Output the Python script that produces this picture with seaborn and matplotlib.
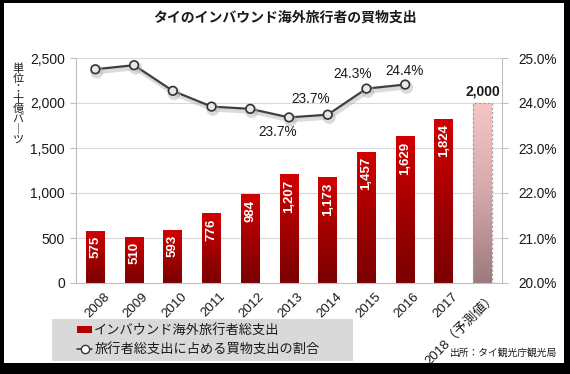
import numpy as np
import pandas as pd
import matplotlib
matplotlib.use("Agg")
import matplotlib.pyplot as plt
import matplotlib.patheffects as pe
from matplotlib.patches import Rectangle, Patch
from matplotlib.lines import Line2D
from matplotlib.ticker import FuncFormatter, MultipleLocator
from matplotlib.colors import LinearSegmentedColormap
import matplotlib.transforms as mtransforms
import seaborn as sns

# ---------------- data ----------------
years = ['2008', '2009', '2010', '2011', '2012', '2013', '2014', '2015', '2016', '2017', '2018（予測値）']
spend = [575, 510, 593, 776, 984, 1207, 1173, 1457, 1629, 1824, 2000]
share_years = ['2008', '2009', '2010', '2011', '2012', '2013', '2014', '2015', '2016']
share = [24.75, 24.84, 24.27, 23.92, 23.87, 23.68, 23.74, 24.32, 24.41]
labelled_share = ['2013', '2014', '2015', '2016']

title = 'タイのインバウンド海外旅行者の買物支出'
ylabel = '単位：十億バーツ'
legend_bar = 'インバウンド海外旅行者総支出'
legend_line = '旅行者総支出に占める買物支出の割合'
source = '出所：タイ観光庁観光局'

# ---------------- style ----------------
sns.set_theme(style="white")
plt.rcParams['font.family'] = ['Liberation Sans', 'Noto Sans CJK JP', 'DejaVu Sans']
TXT = '#1a1a1a'
GRID = '#d9d9d9'
AXC = '#bfbfbf'

W, H = 570, 374
fig = plt.figure(figsize=(W / 100, H / 100), dpi=100)
fig.patch.set_facecolor('white')
L, R, T, B = 76, 502, 58, 283
ax = fig.add_axes([L / W, 1 - B / H, (R - L) / W, (B - T) / H])

df = pd.DataFrame({'year': years, 'spend': spend})
pal = ['#c00000'] * (len(years) - 1) + ['#f0c0c0']
sns.barplot(data=df, x='year', y='spend', hue='year', palette=pal, legend=False,
            width=0.49, ax=ax, saturation=1)

ax.set_xlim(-0.5, len(years) - 0.5)
ax.set_ylim(0, 2500)
ax.yaxis.set_major_locator(MultipleLocator(500))
ax.yaxis.set_major_formatter(FuncFormatter(lambda v, p: f'{int(v):,}'))
ax.grid(axis='y', color=GRID, lw=0.8)
ax.grid(axis='x', visible=False)
ax.set_axisbelow(True)
ax.set_xlabel('')
ax.set_ylabel('')

# gradient fills
red_cmap = LinearSegmentedColormap.from_list('r', ['#7a0000', '#a30000', '#d20000'])
pink_cmap = LinearSegmentedColormap.from_list('p', ['#9c7a7c', '#d4a8aa', '#f6c6c6'])
grad = np.linspace(0, 1, 256).reshape(-1, 1)
for i, patch in enumerate(ax.patches):
    x0, y0 = patch.get_x(), patch.get_y()
    w, h = patch.get_width(), patch.get_height()
    cmap = pink_cmap if i == len(ax.patches) - 1 else red_cmap
    im = ax.imshow(grad, cmap=cmap, extent=(x0, x0 + w, y0, y0 + h), origin='lower',
                   aspect='auto', zorder=1, interpolation='bilinear')
    im.set_clip_path(patch)
    patch.set_facecolor('none')
    patch.set_zorder(1.5)
    if i == len(ax.patches) - 1:
        patch.set_edgecolor('#b79a9c')
        patch.set_linestyle((0, (2, 1.5)))
        patch.set_linewidth(0.9)
    else:
        patch.set_edgecolor('none')
ax.set_xlim(-0.5, len(years) - 0.5)
ax.set_ylim(0, 2500)

# bar labels
for i, patch in enumerate(ax.patches):
    v = spend[i]
    xc = patch.get_x() + patch.get_width() / 2
    if i == len(ax.patches) - 1:
        ax.annotate(f'{v:,}', (xc, v), xytext=(0, 11), textcoords='offset pixels',
                    ha='center', va='center', fontsize=10, fontweight='bold', color=TXT)
    else:
        ax.annotate(f'{v:,}', (xc, v), xytext=(0, -5), textcoords='offset pixels',
                    ha='center', va='top', rotation=90, fontsize=9.5,
                    fontweight='bold', color='white', zorder=3)

# axes styling
for s in ['top', 'right']:
    ax.spines[s].set_visible(False)
for s in ['left', 'bottom']:
    ax.spines[s].set_color(AXC)
    ax.spines[s].set_linewidth(0.8)
ax.set_xticks(range(len(years)))
ax.set_xticklabels(years, rotation=45, ha='right', rotation_mode='anchor',
                   fontsize=9.5, color=TXT)
ax.set_xticks(np.arange(-0.5, len(years), 1), minor=True)
ax.tick_params(axis='x', which='major', length=0, pad=4)
ax.tick_params(axis='x', which='minor', length=4, color=AXC, width=0.8, direction='out')
ax.tick_params(axis='y', length=4, color=AXC, width=0.8, direction='out', labelsize=10,
               labelcolor=TXT, pad=4)
off = mtransforms.ScaledTranslation(8 / 100, -2 / 100, fig.dpi_scale_trans)
for lab in ax.get_xticklabels():
    lab.set_transform(lab.get_transform() + off)

# line on twin axis
ax2 = ax.twinx()
xpos = [years.index(y) for y in share_years]
sns.lineplot(x=xpos, y=share, ax=ax2, color='#404040', lw=1.6, marker='o',
             markersize=6.2, markerfacecolor='#e8e8e8', markeredgecolor='#333333',
             markeredgewidth=1.2, zorder=5)
ln = ax2.lines[-1]
ln.set_path_effects([pe.SimpleLineShadow(offset=(1, -2), shadow_color='#b0b0b0', alpha=0.45, linewidth=3.2),
                     pe.Normal()])
ax2.set_ylim(20, 25)
ax2.yaxis.set_major_locator(MultipleLocator(1))
ax2.yaxis.set_major_formatter(FuncFormatter(lambda v, p: f'{v:.1f}%'))
ax2.grid(False)
ax2.set_xlim(-0.5, len(years) - 0.5)
for s in ['top', 'left', 'bottom']:
    ax2.spines[s].set_visible(False)
ax2.spines['right'].set_color(AXC)
ax2.spines['right'].set_linewidth(0.8)
ax2.tick_params(axis='y', length=4, color=AXC, width=0.8, direction='out', labelsize=9.8,
                labelcolor=TXT, pad=8)

offsets = {'2013': (-11, -15), '2014': (-17, 16), '2015': (-14, 15), '2016': (-1, 14)}
for y in labelled_share:
    i = share_years.index(y)
    ax2.annotate(f'{share[i]:.1f}%', (xpos[i], share[i]), xytext=offsets[y],
                 textcoords='offset pixels', ha='center', va='center', fontsize=9.8, color=TXT)

# title, y label, source
fig.text(285 / W, 1 - 18 / H, title, ha='center', va='center', fontsize=10,
         fontweight='bold', color=TXT, family=['Noto Sans CJK JP'])
ychars = ['単', '位', '：', '十', '億', 'バ', '｜', 'ツ']
fig.text(18 / W, 1 - 104 / H, '\n'.join(ychars), ha='center', va='center', fontsize=8,
         linespacing=0.98, color=TXT, family=['Noto Sans CJK JP'])
fig.text(557 / W, 1 - 353 / H, source, ha='right', va='center', fontsize=7,
         color=TXT, family=['Noto Sans CJK JP'])

# legend with grey box
fig.add_artist(Rectangle((52 / W, 1 - 361 / H), (353 - 52) / W, (361 - 319) / H,
                         transform=fig.transFigure, facecolor='#d9d9d9', edgecolor='none', zorder=0))
handles = [Patch(facecolor='#b00000', edgecolor='none'),
           Line2D([], [], color='#404040', lw=1.2, marker='o', markersize=6,
                  markerfacecolor='white', markeredgecolor='#333333')]
leg = fig.legend(handles, [legend_bar, legend_line], loc='center left',
                 bbox_to_anchor=(77 / W, 1 - 340 / H), frameon=False, fontsize=9.5,
                 handlelength=1.15, handleheight=0.5, handletextpad=0.15, labelspacing=0.42,
                 borderpad=0, borderaxespad=0,
                 prop={'family': ['Noto Sans CJK JP'], 'size': 9.5})
for t in leg.get_texts():
    t.set_color(TXT)

# black frame
for (x, y, w, h) in [(0, 0, 4, H), (564, 0, 6, H), (0, 0, W, 3), (0, 363, W, 11)]:
    fig.add_artist(Rectangle((x / W, 1 - (y + h) / H), w / W, h / H, transform=fig.transFigure,
                             facecolor='black', edgecolor='none', zorder=10))

fig.savefig('out.png', dpi=100)
